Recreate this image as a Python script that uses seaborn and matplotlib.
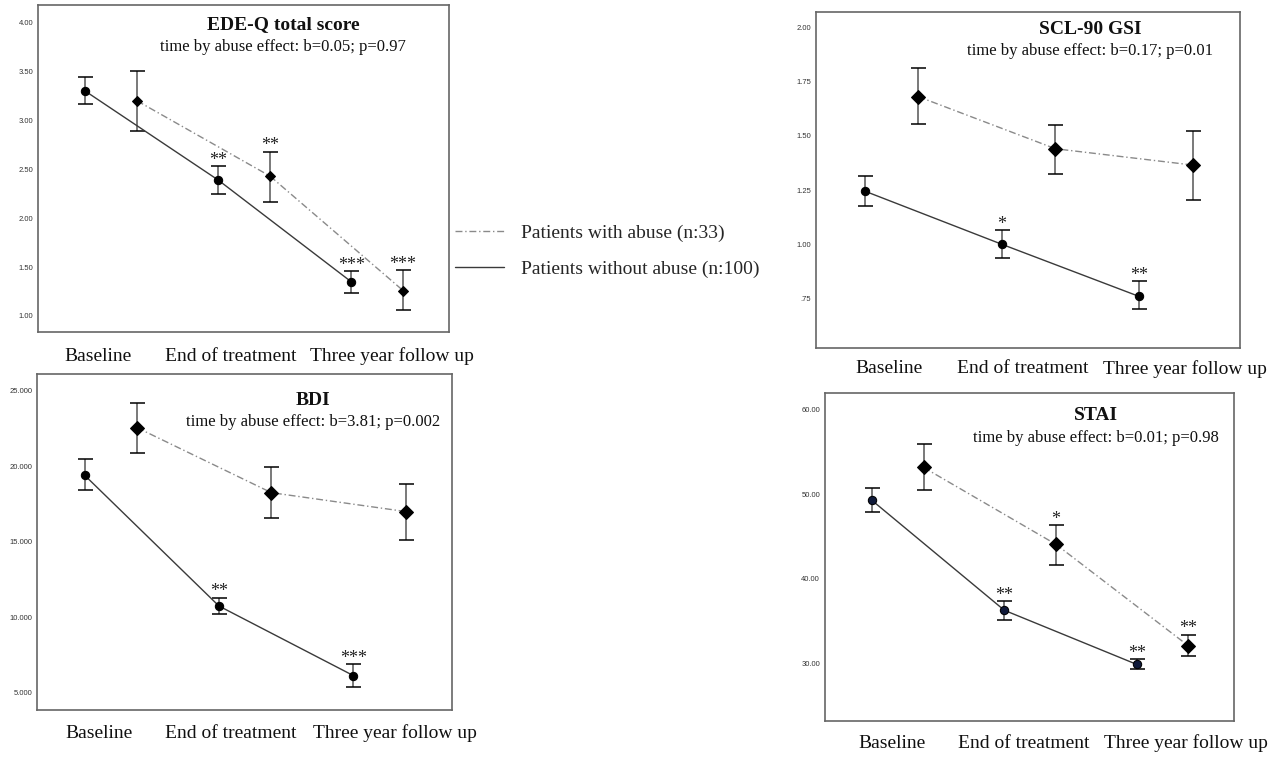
import matplotlib
matplotlib.use("Agg")
import matplotlib.pyplot as plt
import matplotlib.transforms as mtransforms
from matplotlib.lines import Line2D
import seaborn as sns
import pandas as pd
import numpy as np

# ---------------- data ----------------
times = ["Baseline", "End of treatment", "Three year follow up"]
groups = ["Patients with abuse (n:33)", "Patients without abuse (n:100)"]

panel_titles = ["EDE-Q total score", "SCL-90 GSI", "BDI", "STAI"]
panel_subtitles = [
    "time by abuse effect: b=0.05; p=0.97",
    "time by abuse effect: b=0.17; p=0.01",
    "time by abuse effect: b=3.81; p=0.002",
    "time by abuse effect: b=0.01; p=0.98",
]

# EDE-Q
ede_with_mean = [3.20, 2.43, 1.26]
ede_with_lo = [2.89, 2.17, 1.06]
ede_with_hi = [3.51, 2.68, 1.47]
ede_without_mean = [3.30, 2.39, 1.35]
ede_without_lo = [3.17, 2.25, 1.23]
ede_without_hi = [3.44, 2.53, 1.46]
ede_with_stars = ["", "**", "***"]
ede_without_stars = ["", "**", "***"]

# SCL-90 GSI
scl_with_mean = [1.68, 1.44, 1.365]
scl_with_lo = [1.555, 1.325, 1.205]
scl_with_hi = [1.81, 1.55, 1.52]
scl_without_mean = [1.245, 1.00, 0.76]
scl_without_lo = [1.175, 0.935, 0.70]
scl_without_hi = [1.315, 1.065, 0.83]
scl_with_stars = ["", "", ""]
scl_without_stars = ["", "*", "**"]

# BDI
bdi_with_mean = [22.55, 18.25, 17.0]
bdi_with_lo = [20.9, 16.55, 15.1]
bdi_with_hi = [24.15, 19.95, 18.85]
bdi_without_mean = [19.4, 10.75, 6.15]
bdi_without_lo = [18.4, 10.2, 5.4]
bdi_without_hi = [20.45, 11.3, 6.9]
bdi_with_stars = ["", "", ""]
bdi_without_stars = ["", "**", "***"]

# STAI
stai_with_mean = [53.2, 44.1, 32.1]
stai_with_lo = [50.5, 41.7, 30.9]
stai_with_hi = [56.0, 46.4, 33.4]
stai_without_mean = [49.3, 36.3, 29.9]
stai_without_lo = [47.9, 35.2, 29.3]
stai_without_hi = [50.8, 37.4, 30.5]
stai_with_stars = ["", "*", "**"]
stai_without_stars = ["", "**", "**"]

ede_ticks = [1.0, 1.5, 2.0, 2.5, 3.0, 3.5, 4.0]
ede_ticklabels = ["1.00", "1.50", "2.00", "2.50", "3.00", "3.50", "4.00"]
scl_ticks = [0.75, 1.0, 1.25, 1.5, 1.75, 2.0]
scl_ticklabels = [".75", "1.00", "1.25", "1.50", "1.75", "2.00"]
bdi_ticks = [5, 10, 15, 20, 25]
bdi_ticklabels = ["5.000", "10.000", "15.000", "20.000", "25.000"]
stai_ticks = [30, 40, 50, 60]
stai_ticklabels = ["30.00", "40.00", "50.00", "60.00"]

# ---------------- style / layout ----------------
sns.set_style("white")
plt.rcParams["font.family"] = ["Liberation Serif", "DejaVu Serif"]

fig = plt.figure(figsize=(12.79, 7.58), dpi=100)

panels = [
    dict(rect=[0.0297, 0.562, 0.3213, 0.4314], ylim=(0.836, 4.18),
         ticks=ede_ticks, labels=ede_ticklabels,
         w=(ede_with_mean, ede_with_lo, ede_with_hi, ede_with_stars),
         wo=(ede_without_mean, ede_without_lo, ede_without_hi, ede_without_stars),
         tpos=(0.597, 0.939), spos=(0.597, 0.872), lab_dx=(-13, -13, 15), lab_dy=-24,
         dsize=5.5),
    dict(rect=[0.638, 0.541, 0.3315, 0.4433], ylim=(0.523, 2.07),
         ticks=scl_ticks, labels=scl_ticklabels,
         w=(scl_with_mean, scl_with_lo, scl_with_hi, scl_with_stars),
         wo=(scl_without_mean, scl_without_lo, scl_without_hi, scl_without_stars),
         tpos=(0.646, 0.949), spos=(0.646, 0.884), lab_dx=(-2, -6, 19), lab_dy=-21,
         dsize=7),
    dict(rect=[0.0289, 0.0633, 0.3245, 0.4433], ylim=(3.87, 26.1),
         ticks=bdi_ticks, labels=bdi_ticklabels,
         w=(bdi_with_mean, bdi_with_lo, bdi_with_hi, bdi_with_stars),
         wo=(bdi_without_mean, bdi_without_lo, bdi_without_hi, bdi_without_stars),
         tpos=(0.665, 0.92), spos=(0.665, 0.857), lab_dx=(-12, -14, 15), lab_dy=-23,
         dsize=7),
    dict(rect=[0.645, 0.0488, 0.3198, 0.4327], ylim=(23.2, 62.0),
         ticks=stai_ticks, labels=stai_ticklabels,
         w=(stai_with_mean, stai_with_lo, stai_with_hi, stai_with_stars),
         wo=(stai_without_mean, stai_without_lo, stai_without_hi, stai_without_stars),
         tpos=(0.663, 0.931), spos=(0.663, 0.864), lab_dx=(-6, -6, 23), lab_dy=-22,
         dsize=7),
]

offsets = {groups[0]: 0.195, groups[1]: -0.195}
line_col = "#3a3a3a"
dash_col = "#8a8a8a"
err_col = "#555555"
spine_col = "#666666"

for i, p in enumerate(panels):
    ax = fig.add_axes(p["rect"])
    rows = []
    for g, key in zip(groups, ["w", "wo"]):
        m, lo, hi, st = p[key]
        for t in range(3):
            rows.append(dict(time=t, group=g, mean=m[t], lo=lo[t], hi=hi[t],
                             star=st[t], x=t + offsets[g]))
    df = pd.DataFrame(rows)

    for g in groups:
        sub = df[df.group == g]
        ax.errorbar(sub.x, sub["mean"], yerr=[sub["mean"] - sub.lo, sub.hi - sub["mean"]],
                    fmt="none", ecolor=err_col, elinewidth=1.1, capsize=5.4,
                    capthick=1.1, zorder=2)

    sns.lineplot(data=df, x="x", y="mean", hue="group", style="group",
                 hue_order=groups, style_order=groups,
                 palette={groups[0]: dash_col, groups[1]: line_col},
                 markers={groups[0]: "D", groups[1]: "o"},
                 dashes={groups[0]: (5, 2, 1, 2), groups[1]: ""},
                 markersize=6, linewidth=1.0, legend=False, ax=ax, zorder=3,
                 sort=False)
    for ln in ax.lines:
        ln.set_markerfacecolor("black")
        ln.set_markeredgecolor("black")
        if ln.get_marker() == "D":
            ln.set_markersize(p["dsize"])
        if i == 3 and ln.get_marker() == "o":
            ln.set_markerfacecolor("#101a3a")

    for _, r in df.iterrows():
        if r.star:
            ax.annotate(r.star, (r.x, r.hi), xytext=(0, 1), textcoords="offset points",
                        ha="center", va="baseline", fontsize=13, color="#222222",
                        family=["Liberation Serif", "DejaVu Serif"])

    ax.set_xlim(-0.55, 2.54)
    ax.set_ylim(*p["ylim"])
    ax.set_xticks(range(3))
    ax.set_xticklabels([])
    blend = mtransforms.blended_transform_factory(ax.transData, ax.transAxes)
    for t, (name, dx) in enumerate(zip(times, p["lab_dx"])):
        tr = blend + mtransforms.ScaledTranslation(dx / 100, p["lab_dy"] / 100,
                                                   fig.dpi_scale_trans)
        ax.text(t, 0, name, transform=tr, ha="center", va="center", fontsize=14,
                color="#111111")
    ax.set_yticks(p["ticks"])
    ax.set_yticklabels(p["labels"], fontsize=5.5, family=["Liberation Sans", "DejaVu Sans"],
                       color="#333333")
    ax.tick_params(axis="x", length=4, width=1.0, color=spine_col)
    ax.tick_params(axis="y", length=2.5, width=0.8, color=spine_col, pad=1)
    ax.set_xlabel("")
    ax.set_ylabel("")
    for s in ax.spines.values():
        s.set_visible(True)
        s.set_color(spine_col)
        s.set_linewidth(1.2)

    ax.text(p["tpos"][0], p["tpos"][1], panel_titles[i], transform=ax.transAxes,
            ha="center", va="center", fontsize=14, fontweight="bold", color="#111111")
    ax.text(p["spos"][0], p["spos"][1], panel_subtitles[i], transform=ax.transAxes,
            ha="center", va="center", fontsize=12, color="#111111")

handles = [Line2D([0], [0], color=dash_col, lw=1.0, dashes=(5, 2, 1, 2)),
           Line2D([0], [0], color=line_col, lw=1.0)]
fig.legend(handles, groups, loc="center left", bbox_to_anchor=(0.342, 0.669),
           frameon=False, fontsize=14, handlelength=2.5, handletextpad=0.9,
           labelspacing=0.95)

fig.savefig("out.png", dpi=100)
